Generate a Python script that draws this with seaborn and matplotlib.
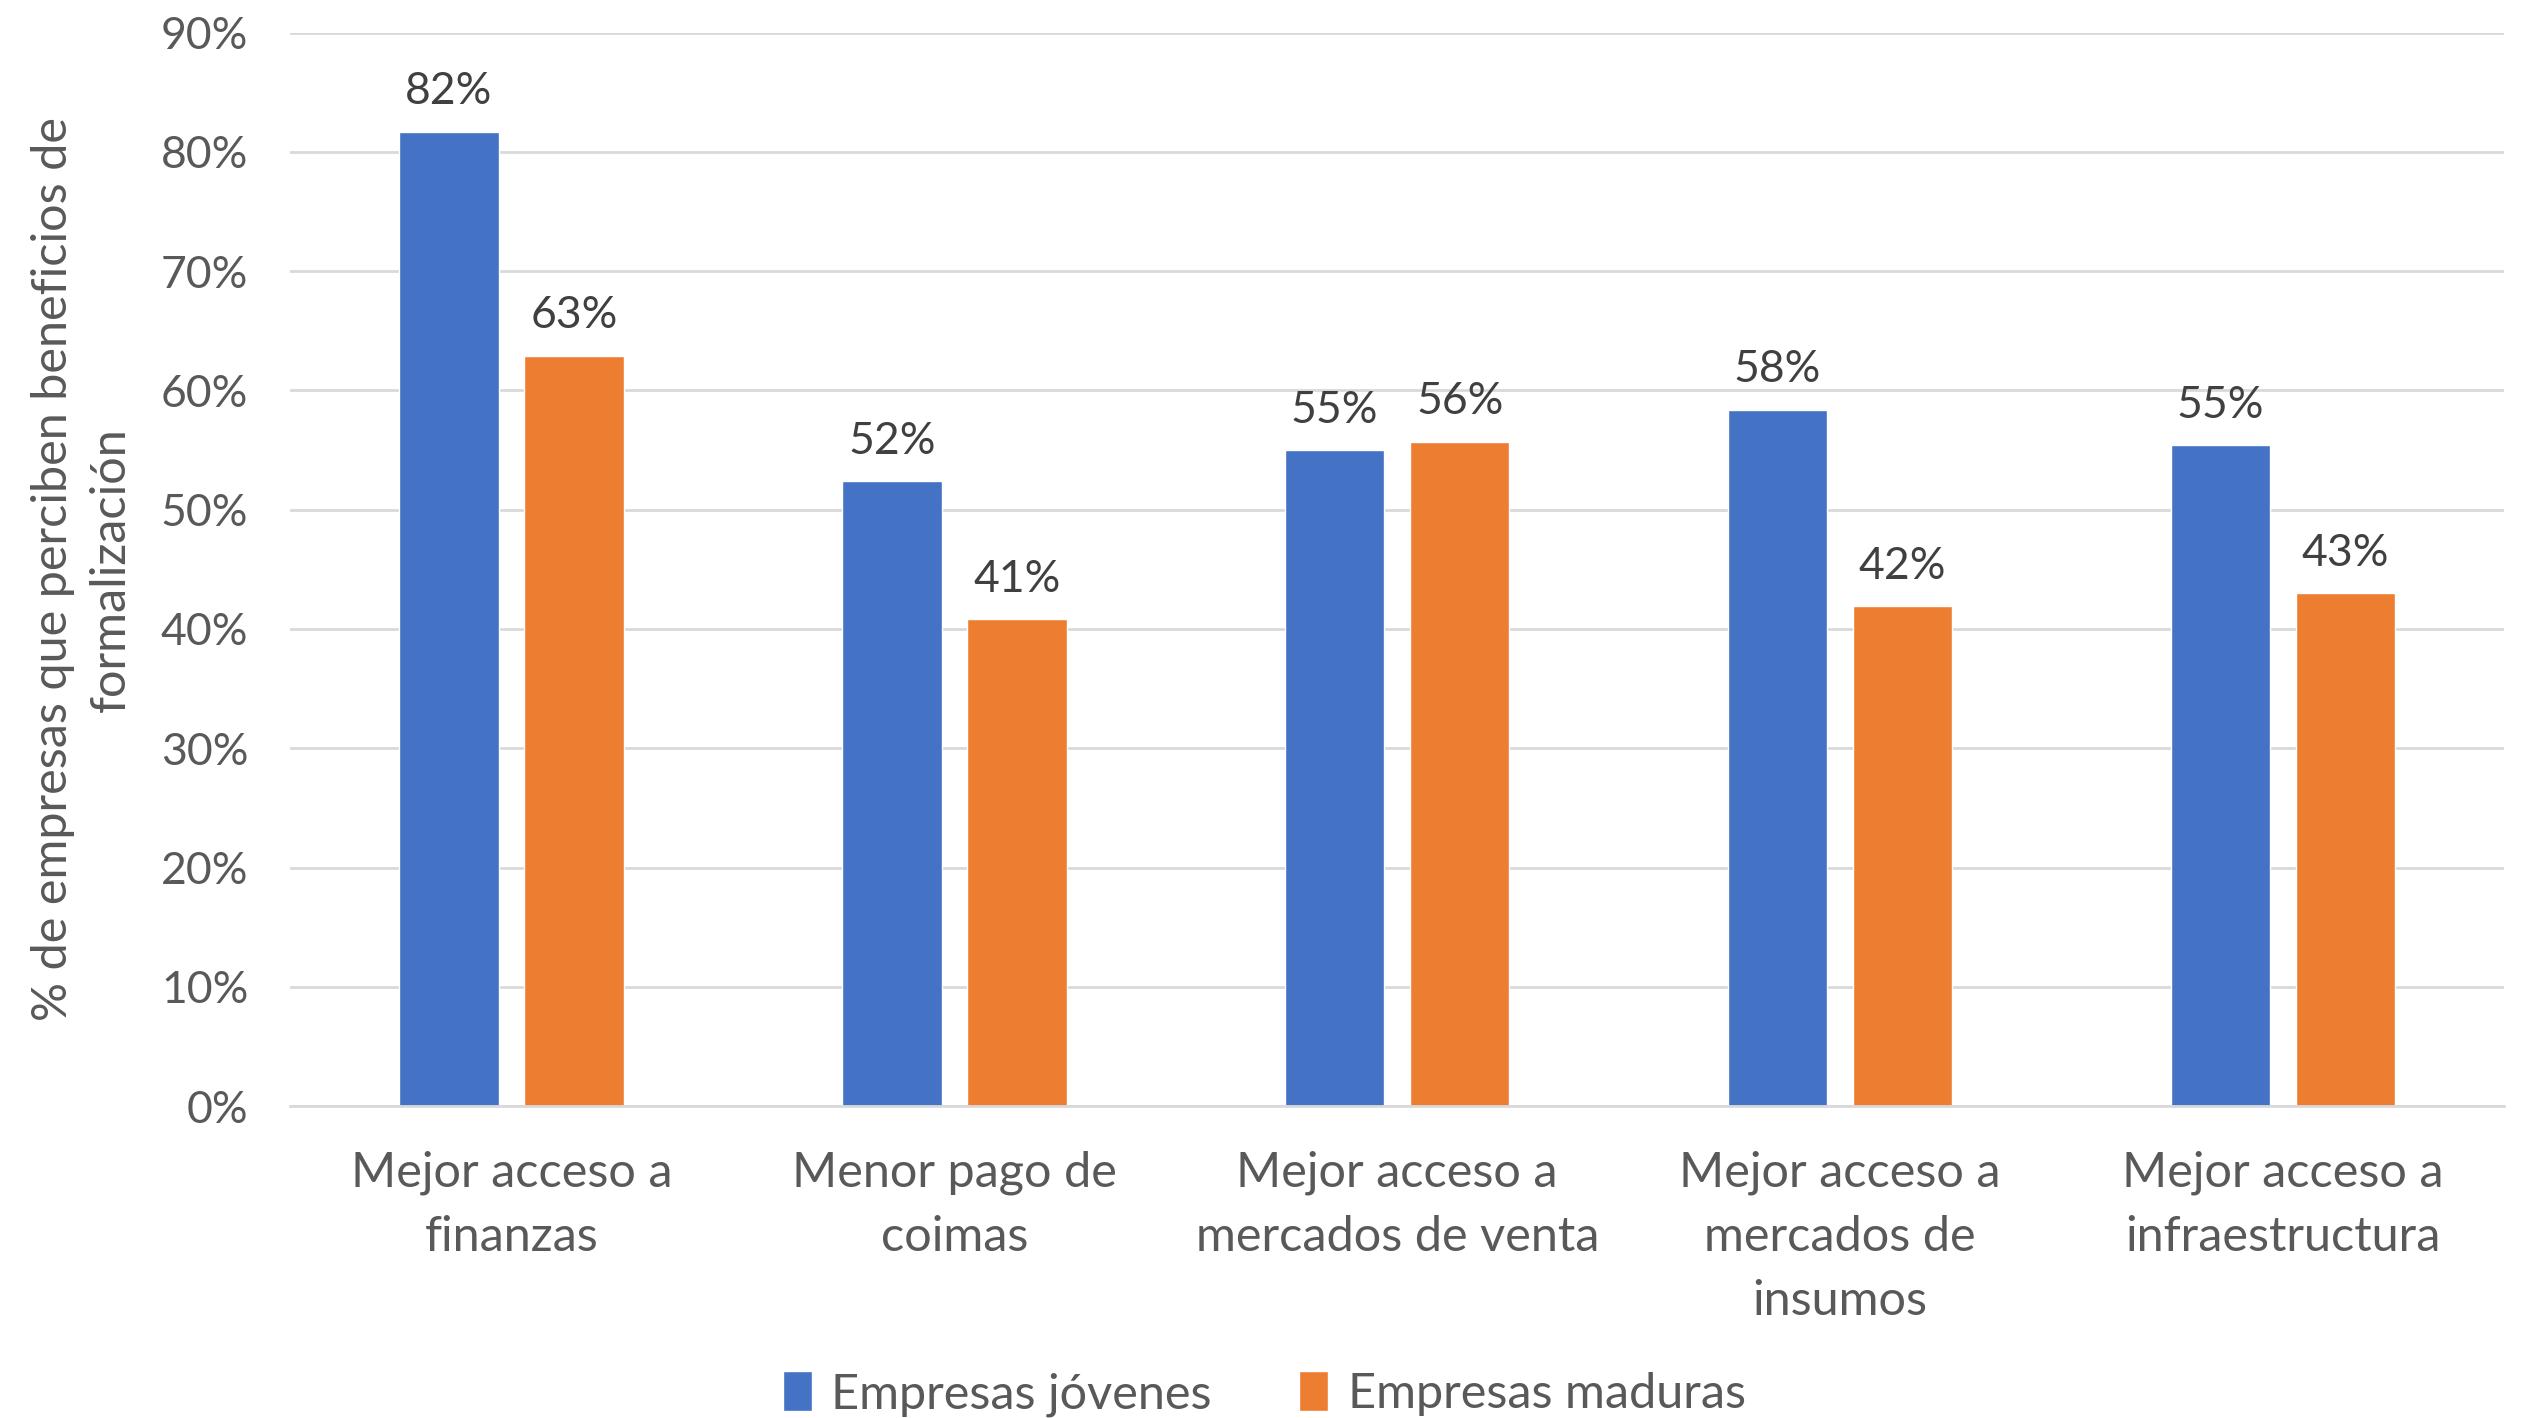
import matplotlib
matplotlib.use('Agg')
import pandas as pd
import seaborn as sns
import matplotlib.pyplot as plt
from matplotlib.ticker import PercentFormatter

categories = ['Mejor acceso a\nfinanzas', 'Menor pago de\ncoimas', 'Mejor acceso a\nmercados de venta',
              'Mejor acceso a\nmercados de\ninsumos', 'Mejor acceso a\ninfraestructura']
jovenes = [81.7, 52.4, 55.0, 58.4, 55.4]
maduras = [62.9, 40.8, 55.7, 41.9, 43.0]
series_names = ['Empresas jóvenes', 'Empresas maduras']

df = pd.DataFrame({
    'cat': categories * 2,
    'valor': jovenes + maduras,
    'serie': [series_names[0]] * 5 + [series_names[1]] * 5,
})

sns.set_theme(style='white')
plt.rcParams['font.family'] = ['Lato', 'DejaVu Sans']
txt = '#595959'

fig, ax = plt.subplots(figsize=(25.22, 14.18), dpi=100)
fig.subplots_adjust(left=0.115, right=0.993, top=0.977, bottom=0.22)

sns.barplot(df, x='cat', y='valor', hue='serie', palette=['#4472C4', '#ED7D31'],
            width=0.565, gap=0.205, ax=ax, saturation=1)

for c in ax.containers:
    ax.bar_label(c, fmt='%.0f%%', padding=14, fontsize=32, color='#404040')

ax.set_ylim(0, 90)
ax.set_yticks(range(0, 91, 10))
ax.yaxis.set_major_formatter(PercentFormatter(decimals=0))
ax.grid(axis='y', color='#d9d9d9', linewidth=2)
ax.set_axisbelow(True)
for s in ['left', 'right', 'top']:
    ax.spines[s].set_visible(False)
ax.spines['bottom'].set_color('#d9d9d9')
ax.spines['bottom'].set_linewidth(2)
ax.tick_params(axis='y', labelsize=32, colors=txt, pad=30, length=0)
ax.tick_params(axis='x', labelsize=35, colors=txt, pad=32, length=0)
ax.set_xlabel('')
ax.set_ylabel('% de empresas que perciben beneficios de\nformalización', fontsize=35, color=txt,
              labelpad=20, linespacing=1.4)
for t in ax.get_xticklabels():
    t.set_multialignment('center')
    t.set_linespacing(1.55)

ax.legend(loc='lower center', bbox_to_anchor=(0.44, -0.33), ncol=2, frameon=False,
          fontsize=35, labelcolor=txt, handlelength=0.6, handleheight=0.9, handletextpad=0.4,
          columnspacing=1.8)

plt.savefig('out.png', dpi=100)
